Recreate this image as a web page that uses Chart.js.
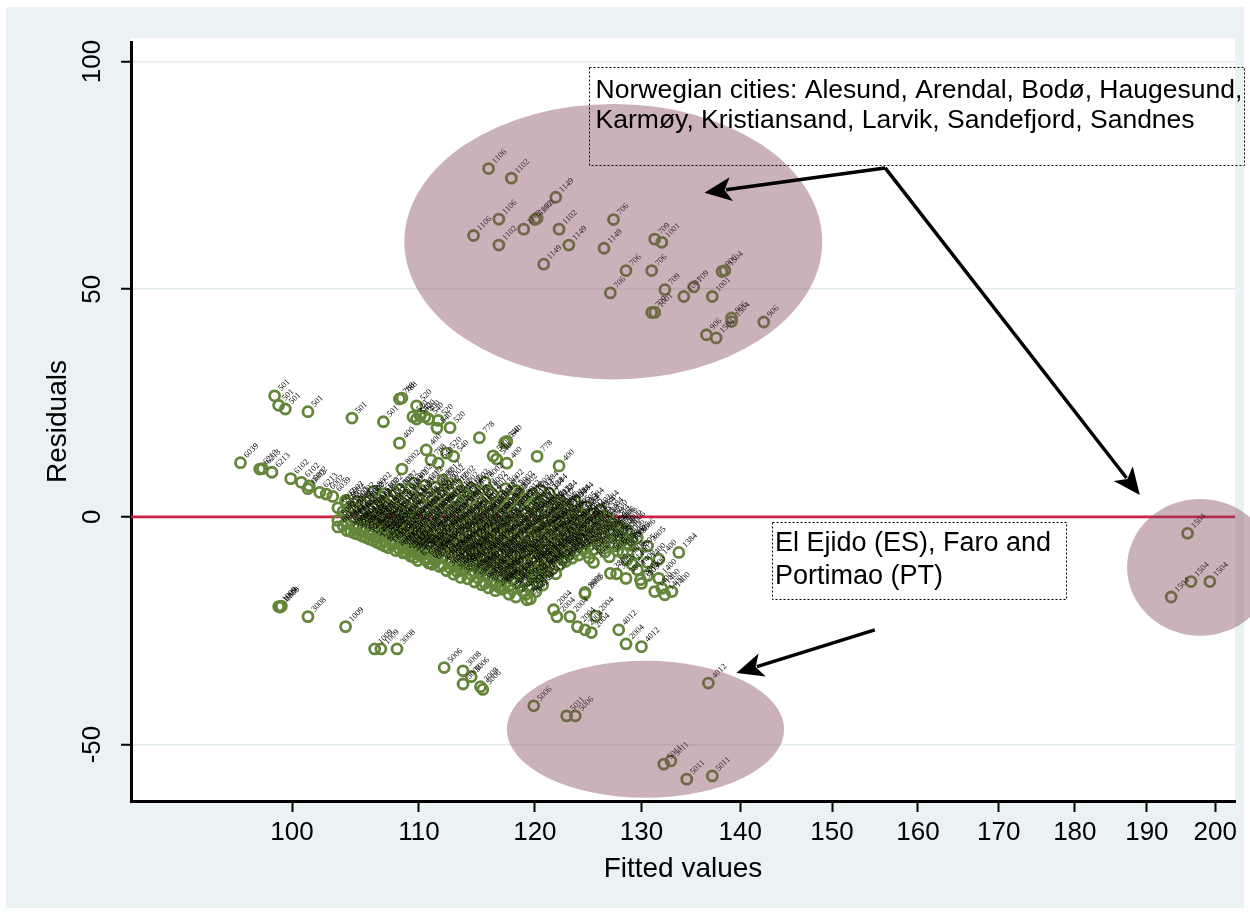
<!DOCTYPE html>
<html><head><meta charset="utf-8">
<script src="https://cdn.jsdelivr.net/npm/chart.js@4.4.1/dist/chart.umd.min.js"></script>
<style>html,body{margin:0;padding:0;background:#fff;}canvas{display:block;}</style>
</head><body>
<canvas id="c" width="1250" height="913"></canvas>
<script>
// ---------- DATA ----------
const xTicks = [100, 110, 120, 130, 140, 150, 160, 170, 180, 190, 200];
const yTicks = [-50, 0, 50, 100];
const xTitle = 'Fitted values';
const yTitle = 'Residuals';

// [fitted, residual, label]
const norway = [
 [115.9,76.5,'1106'],[117.9,74.4,'1102'],[121.9,70.2,'1149'],[116.8,65.4,'1106'],[114.6,61.8,'1106'],
 [119.0,63.2,'1102'],[120.0,65.3,'1102'],[120.2,65.6,'1001'],[116.8,59.7,'1102'],[122.2,63.2,'1102'],
 [123.1,59.7,'1149'],[120.8,55.5,'1149'],[126.4,59.0,'1149'],[127.3,65.3,'706'],[131.3,61.0,'709'],
 [132.0,60.3,'1001'],[128.5,54.1,'706'],[131.0,54.1,'706'],[127.0,49.2,'706'],[132.3,49.9,'709'],
 [131.0,44.9,'709'],[131.3,44.9,'1001'],[134.2,48.4,'1001'],[135.2,50.5,'709'],[137.1,48.4,'1001'],
 [138.1,53.9,'906'],[138.4,54.1,'1504'],[139.1,43.7,'906'],[139.1,42.9,'1504'],[136.5,40.0,'906'],
 [137.5,39.3,'1504'],[142.5,42.8,'906']
];
const rightGroup = [[195.9,-3.6,'1504'],[196.4,-14.2,'1504'],[199.2,-14.2,'1504'],[193.5,-17.6,'1504']];
const iberia = [
 [136.7,-36.5,'4012'],[119.9,-41.5,'5006'],[122.9,-43.7,'5011'],[123.7,-43.7,'5006'],
 [132.2,-54.3,'5011'],[132.9,-53.6,'5011'],[134.5,-57.6,'5011'],[137.1,-56.9,'5011']
];
const lowerLeft = [
 [99.0,-19.7,'1009'],[99.1,-19.8,'1009'],[99.2,-19.6,'1009'],[101.2,-21.9,'3008'],[104.1,-24.1,'1009'],
 [106.4,-29.0,'1009'],[106.9,-29.0,'1009'],[108.2,-29.0,'3008'],[112.1,-33.1,'5006'],[113.7,-33.8,'3008'],
 [114.4,-35.1,'5006'],[113.7,-36.7,'3008'],[115.2,-37.3,'3008'],[115.4,-37.9,'5006']
];
const upperGroup = [
 [98.7,26.6,'501'],[99.0,24.5,'501'],[99.5,23.7,'501'],[101.2,23.1,'501'],[104.6,21.7,'501'],[107.1,20.9,'501'],
 [108.4,25.9,'788'],[108.6,26.1,'788'],[109.8,24.4,'520'],[109.5,22.0,'520'],[110.1,22.2,'520'],[110.5,22.0,'400'],
 [109.8,21.5,'540'],[110.8,21.5,'540'],[111.6,21.2,'520'],[111.5,19.5,'540'],[112.6,19.6,'520'],
 [108.4,16.2,'400'],[110.6,14.7,'400'],[111.0,12.5,'788'],[111.6,11.8,'540'],[112.3,14.0,'520'],[112.9,13.3,'540'],
 [115.1,17.4,'778'],[117.3,16.3,'540'],[117.5,16.6,'540'],[116.3,13.4,'540'],[116.6,12.7,'540'],[117.5,11.8,'400'],
 [120.2,13.3,'778'],[122.2,11.2,'400'],[108.6,10.5,'8002']
];
const leadingEdge = [
 [96.2,11.9,'6039'],[97.6,10.5,'6213'],[97.8,10.6,'6213'],[98.5,9.8,'6213'],[99.9,8.4,'6102'],[100.7,7.6,'6102'],
 [101.3,6.8,'6002'],[101.2,6.2,'6002'],[102.1,5.4,'6213'],[102.6,5.0,'6002'],[103.1,4.5,'6039'],[104.1,3.6,'6002'],
 [105.0,3.4,'6002'],[106.3,5.6,'8002']
];
const rightSparse = [
 [133.7,-7.8,'1384'],[127.1,-1.5,'1384'],[127.6,-2.1,'3006'],[127.9,-4.7,'3006'],[128.5,-4.7,'3006'],[128.8,-6.2,'3006'],
 [126.5,0.1,'1384'],[124.3,0.7,'1384'],[124.9,-1.5,'2402'],[122.0,2.1,'6002'],[120.5,5.8,'1384'],[121.3,-2.9,'6213'],
 [122.0,-6.5,'6213'],[122.9,-7.8,'6213'],[124.3,-2.9,'1730'],
 [127.0,-12.4,'3805'],[127.6,-12.5,'3805'],[128.5,-13.5,'3805'],[129.9,-13.8,'3805'],[130.0,-14.6,'3805'],
 [131.3,-16.4,'1400'],[132.0,-15.7,'1400'],[133.0,-16.4,'1400'],[132.3,-17.1,'1400'],
 [124.6,-16.6,'8006'],[121.0,-11.6,'8006'],[119.9,-11.6,'8006'],[120.2,-14.6,'8006'],[119.3,-18.2,'2802'],
 [119.6,-18.0,'2802'],[117.0,-15.3,'2802'],
 [121.7,-20.4,'2004'],[122.0,-21.9,'2004'],[123.2,-21.9,'2004'],[123.9,-24.1,'2004'],[124.6,-24.8,'2004'],
 [125.2,-25.4,'2004'],[127.8,-24.8,'4012'],[128.5,-27.9,'2004'],[130.0,-28.5,'4012'],[125.6,-21.8,'2004'],
 [124.6,-16.9,'2802']
];
// dense core, first pass: [fitted, residuals, labels]
const coreColumns = [
 [103.5,[2.0,-0.8,-2.2],'6002 8002 8012'],
 [104.2,[3.1,0.4,-1.5,-3.0],'6002 8002 8012 3801'],
 [104.8,[1.6,-0.5,-2.4,-3.6],'8002 8012 3801 3605'],
 [105.4,[2.8,0.9,-1.0,-2.9,-4.2],'6002 8002 8012 3801 3605'],
 [106.0,[4.0,1.5,-0.3,-1.9,-3.5,-4.9],'8002 8012 3801 3605 2402 1730'],
 [106.6,[2.6,0.6,-1.2,-2.8,-4.4,-5.6],'8002 8012 3801 3605 2402 1730'],
 [107.2,[5.1,3.2,1.0,-0.7,-2.3,-3.9,-5.3,-6.4],'8002 6102 8012 3801 3605 2402 1730 8006'],
 [107.8,[1.9,-0.1,-1.8,-3.4,-4.9,-6.2],'8012 3801 3605 2402 1730 8006'],
 [108.4,[6.0,3.8,0.8,-1.1,-2.9,-4.4,-5.9,-7.1],'8002 6102 8012 3801 3605 2402 1730 8006'],
 [109.0,[4.7,2.2,-0.5,-2.2,-3.8,-5.4,-6.8,-8.0],'8002 8012 3801 3605 2402 1730 8006 2802'],
 [109.6,[7.4,3.5,1.2,-1.3,-3.0,-4.7,-6.3,-7.7,-8.9],'8002 6102 8012 3801 3605 2402 1730 8006 2802'],
 [110.2,[5.8,2.6,0.3,-1.8,-3.6,-5.2,-6.9,-8.4],'8012 3801 3605 2402 1730 8006 2802 6213'],
 [110.8,[4.4,1.7,-0.6,-2.5,-4.2,-5.9,-7.5,-9.2,-10.1],'8002 8012 3801 3605 2402 1730 8006 2802 6213'],
 [111.4,[6.6,3.0,0.7,-1.4,-3.3,-5.0,-6.6,-8.2,-9.7],'8002 8012 3801 3605 2402 1730 8006 2802 6213'],
 [112.0,[8.1,4.9,2.0,-0.2,-2.2,-4.0,-5.7,-7.3,-8.9,-10.6],'8012 6102 8002 3801 3605 2402 1730 8006 2802 6213'],
 [112.6,[5.5,1.3,-1.0,-3.0,-4.8,-6.5,-8.1,-9.8,-11.2],'8012 8002 3801 3605 2402 1730 8006 2802 6213'],
 [113.2,[7.0,3.6,0.4,-1.9,-3.8,-5.6,-7.3,-9.0,-10.5,-12.0],'8002 8012 3801 3605 2402 1730 8006 2802 6213 3006'],
 [113.8,[4.6,1.9,-0.7,-2.7,-4.6,-6.4,-8.2,-9.9,-11.5],'8012 3801 3605 2402 1730 8006 2802 6213 3006'],
 [114.4,[6.3,2.8,0.1,-1.8,-3.6,-5.4,-7.1,-8.9,-10.7,-12.6],'8002 8012 3801 3605 2402 1730 8006 2802 6213 3006'],
 [115.0,[4.2,1.0,-1.0,-2.9,-4.7,-6.3,-8.0,-9.8,-11.6,-13.4],'8012 3801 3605 2402 1730 8006 2802 6213 3006 3805'],
 [115.6,[7.6,2.4,-0.2,-2.0,-3.9,-5.7,-7.4,-9.1,-10.9,-12.8,-14.6],'8002 8012 3801 3605 2402 1730 8006 2802 6213 3006 3805'],
 [116.2,[5.1,1.4,-1.2,-3.1,-4.9,-6.8,-8.6,-10.4,-12.2,-14.0],'8012 3801 3605 2402 1730 8006 2802 6213 3006 3805'],
 [116.8,[3.4,0.3,-2.2,-4.1,-6.0,-7.8,-9.6,-11.4,-13.3,-15.4],'8012 3801 3605 2402 1730 8006 2802 6213 3006 3805'],
 [117.4,[6.2,2.0,-0.8,-3.0,-5.1,-7.0,-8.9,-10.7,-12.6,-14.5],'8002 3801 3605 2402 1730 8006 2802 6213 3006 3805'],
 [118.0,[4.1,0.9,-1.8,-3.9,-5.9,-7.9,-9.8,-11.8,-13.8,-16.0],'8012 3801 3605 2402 1730 8006 2802 6213 3006 3805'],
 [118.6,[5.3,2.4,-0.4,-2.7,-4.8,-6.8,-8.8,-10.8,-12.9,-15.1],'8002 8012 3801 3605 2402 1730 8006 2802 6213 3006'],
 [119.2,[3.5,1.0,-1.6,-3.7,-5.8,-7.8,-9.9,-12.0,-14.1,-17.0],'8012 3801 3605 2402 1730 8006 2802 6213 3006 2004'],
 [119.8,[5.0,2.1,-0.5,-2.8,-4.9,-6.9,-9.0,-11.2,-13.4],'8002 8012 3801 3605 2402 1730 8006 2802 6213'],
 [120.4,[3.0,0.4,-1.9,-4.0,-6.1,-8.2,-10.4,-12.7],'8012 3801 3605 2402 1730 8006 2802 6213'],
 [121.0,[4.3,1.5,-0.9,-3.1,-5.2,-7.4,-9.7,-12.1],'1384 8012 3801 3605 2402 1730 8006 2802'],
 [121.6,[2.6,0.0,-2.3,-4.5,-6.7,-9.0,-11.4],'8012 3801 3605 2402 1730 8006 2802'],
 [122.2,[3.8,1.1,-1.4,-3.6,-5.9,-8.3,-10.6],'1384 3801 3605 2402 1730 8006 2802'],
 [122.8,[2.0,-0.6,-2.9,-5.1,-7.4,-9.8],'3801 3605 2402 1730 8006 2802'],
 [123.4,[2.9,0.5,-1.9,-4.3,-6.6,-9.1],'1384 3605 2402 1730 8006 2802'],
 [124.0,[1.3,-1.1,-3.6,-5.9,-8.4],'3605 2402 1730 8006 2802'],
 [124.7,[2.2,-0.3,-2.8,-5.2,-7.8],'1384 2402 1730 8006 2802'],
 [125.4,[0.7,-2.0,-4.5,-7.2,-10.0],'2402 1730 8006 2802 3006'],
 [126.1,[1.6,-1.4,-3.9,-6.6],'1384 1730 8006 3006'],
 [126.9,[-0.5,-3.2,-5.9,-8.8],'1730 3006 8006 3805'],
 [127.7,[-1.9,-4.1,-7.5],'3006 3006 3805'],
 [128.6,[-3.0,-5.8,-9.4],'3006 3805 3805'],
 [129.6,[-4.6,-8.1,-11.6],'3006 3805 1400'],
 [130.6,[-6.4,-10.0,-12.9],'3805 1400 1400'],
 [131.7,[-9.3,-13.5],'1400 1400']
];
// dense core, second pass (between the columns above)
const coreColumns2 = [
 [103.9,[1.2,-1.9],'8002 8012'],
 [104.5,[2.3,-0.9,-3.2],'6002 8012 3801'],
 [105.1,[0.2,-1.7,-3.8],'8002 3801 3605'],
 [105.7,[3.4,-0.6,-2.3,-4.5],'8002 8012 3801 3605'],
 [106.3,[1.9,-1.0,-3.1,-5.2],'8012 3801 3605 2402'],
 [106.9,[4.4,0.1,-2.0,-4.0,-6.0],'6102 8012 3801 3605 2402'],
 [107.5,[2.5,-1.3,-3.0,-4.4,-6.8],'8002 3801 3605 2402 1730'],
 [108.1,[5.2,1.3,-2.4,-5.5,-7.4],'8002 8012 3605 1730 8006'],
 [108.7,[2.9,-0.4,-3.6,-6.4,-7.9],'8012 3801 2402 8006 2802'],
 [109.3,[6.2,1.8,-1.6,-4.3,-7.4,-8.6],'8002 8012 3801 2402 8006 2802'],
 [109.9,[4.1,0.0,-2.3,-5.6,-8.1,-9.6],'8002 3801 3605 1730 2802 6213'],
 [110.5,[6.9,1.1,-2.8,-4.6,-7.6,-9.4],'6102 8012 3605 1730 2802 6213'],
 [111.1,[3.7,-0.1,-3.9,-6.3,-8.7,-10.4],'8002 3801 2402 8006 2802 6213'],
 [111.7,[5.2,1.8,-2.0,-4.5,-7.7,-10.9],'8012 3801 3605 1730 2802 3006'],
 [112.3,[7.1,2.7,-1.5,-3.6,-6.0,-9.3,-11.8],'8002 8012 3801 2402 8006 6213 3006'],
 [112.9,[4.2,0.2,-2.4,-5.3,-7.9,-10.8,-12.6],'8012 3801 3605 1730 2802 6213 3006'],
 [113.5,[5.7,2.4,-1.3,-4.4,-6.9,-9.5,-11.8,-13.3],'8002 8012 3801 2402 8006 2802 3006 3805'],
 [114.1,[3.5,-0.9,-3.2,-6.0,-8.6,-10.9,-13.6],'8012 3801 3605 1730 2802 6213 3805'],
 [114.7,[6.0,1.6,-2.4,-5.0,-7.9,-10.0,-12.4,-14.3],'8002 8012 3605 2402 8006 6213 3006 3805'],
 [115.3,[3.2,-0.5,-3.5,-6.6,-9.2,-11.9,-14.9],'8012 3801 2402 1730 2802 3006 3805'],
 [115.9,[5.8,1.0,-2.6,-4.8,-8.0,-10.4,-13.4,-15.6],'8002 8012 3801 2402 8006 6213 3006 3805'],
 [116.5,[2.8,-0.6,-3.9,-6.1,-9.3,-11.6,-14.7,-16.2],'8012 3801 3605 1730 2802 6213 3805 2802'],
 [117.1,[4.6,0.9,-2.0,-5.2,-8.1,-10.0,-13.0,-15.9],'8002 8012 3801 2402 8006 2802 3006 3805'],
 [117.7,[3.0,-1.4,-4.0,-6.6,-9.6,-12.0,-15.3,-17.0],'8012 3801 3605 1730 2802 6213 3805 2802'],
 [118.3,[5.8,1.7,-2.8,-5.0,-8.6,-10.4,-14.4,-17.6],'8002 8012 3801 2402 8006 6213 3006 2802'],
 [118.9,[3.9,-0.9,-3.6,-6.2,-9.6,-11.9,-16.3],'8012 3801 3605 1730 2802 6213 2004'],
 [119.5,[2.5,-0.1,-2.6,-5.4,-8.2,-10.9,-15.6],'8002 3801 3605 2402 8006 2802 2004'],
 [120.1,[4.0,1.0,-3.3,-6.9,-9.7,-13.0,-16.4],'1384 8012 3605 1730 8006 6213 2004'],
 [120.7,[2.1,-0.8,-3.4,-7.0,-9.2,-11.4,-15.0],'8012 3801 2402 1730 2802 6213 2004'],
 [121.3,[5.2,0.7,-2.0,-4.3,-8.3,-10.8],'1384 3801 3605 2402 8006 2802'],
 [121.9,[3.1,-1.1,-3.9,-5.6,-7.8,-12.5],'8012 3605 2402 1730 8006 2802'],
 [122.5,[0.9,-2.3,-4.8,-7.0,-9.4],'3801 2402 1730 8006 2802'],
 [123.1,[1.9,-0.5,-3.2,-5.7,-8.3],'1384 3605 1730 8006 2802'],
 [123.7,[3.4,-1.7,-4.1,-7.5],'1384 2402 8006 2802'],
 [124.3,[0.4,-2.2,-4.8,-6.9],'2402 1730 8006 2802'],
 [125.0,[-1.0,-3.4,-6.3,-9.0],'1730 8006 2802 3006'],
 [125.8,[0.3,-2.6,-5.4],'1384 8006 3006'],
 [126.5,[-1.9,-4.6,-7.7],'1730 3006 3805'],
 [127.3,[-3.6,-6.4],'3006 3805'],
 [128.2,[-2.5,-8.0],'3006 3805'],
 [129.1,[-5.3,-10.4],'3805 1400']
];

// annotation geometry, in data units (fitted, residual)
const ellipses = [ // [xLeft, xRight, yTop, yBottom]
 [108.8, 148.9, 90.7, 30.2],
 [117.5, 144.7, -31.6, -61.7],
 [187.2, 208.9, 3.95, -26.1]
];
const arrows = [ // [xFrom, yFrom, xTo, yTo]
 [156.1, 76.65, 136.3, 71.2],
 [156.1, 76.65, 189.0, 4.8],
 [154.9, -24.8, 139.6, -34.3]
];
const boxes = [ // [xLeft, yTop, xRight, yBottom]
 [125.0, 98.8, 204.4, 77.3],
 [143.4, -1.1, 178.8, -18.0]
];
const boxTexts = [ // [x, baseline y, text, font size]
 [125.6, 92.0, 'Norwegian cities: Alesund, Arendal, Bodø, Haugesund,', 26.5],
 [125.6, 85.5, 'Karmøy, Kristiansand, Larvik, Sandefjord, Sandnes', 26.5],
 [143.7, -7.6, 'El Ejido (ES), Faro and', 27],
 [143.7, -14.8, 'Portimao (PT)', 27]
];

// ---------- STYLE ----------
const FONT = '"Liberation Sans", Arial, Helvetica, sans-serif';
const GREEN = '#64863a';
const toPts = g => g.map(p => ({x: p[0], y: p[1], l: p[2]}));
const fromColumns = cols => {
 const out = [];
 cols.forEach(c => { const labs = c[2].split(' '); c[1].forEach((r, i) => out.push({x: c[0], y: r, l: labs[i] || ''})); });
 return out;
};
const groups = [toPts(leadingEdge), fromColumns(coreColumns), fromColumns(coreColumns2), toPts(upperGroup),
 toPts(rightSparse), toPts(lowerLeft), toPts(iberia), toPts(norway), toPts(rightGroup)];

const bgPlugin = {
 id: 'bg',
 beforeDraw(chart) {
  const ctx = chart.ctx, a = chart.chartArea;
  ctx.save();
  ctx.fillStyle = '#ffffff'; ctx.fillRect(0, 0, chart.width, chart.height);
  ctx.fillStyle = '#eaf2f3'; ctx.fillRect(6, 7, chart.width - 12, chart.height - 12);
  ctx.fillStyle = '#ffffff'; ctx.fillRect(a.left - 1, a.top - 4, a.right - a.left + 1, a.bottom - a.top + 4);
  ctx.restore();
 }
};
const zeroPlugin = {
 id: 'zero',
 beforeDatasetsDraw(chart) {
  const ctx = chart.ctx, a = chart.chartArea, y0 = chart.scales.y.getPixelForValue(0);
  ctx.save(); ctx.strokeStyle = '#cf1f45'; ctx.lineWidth = 2.6;
  ctx.beginPath(); ctx.moveTo(a.left, y0); ctx.lineTo(a.right, y0); ctx.stroke(); ctx.restore();
 }
};
const annoPlugin = {
 id: 'anno',
 afterDatasetsDraw(chart) {
  const ctx = chart.ctx, xs = chart.scales.x, ys = chart.scales.y;
  const X = v => xs.getPixelForValue(v), Y = v => ys.getPixelForValue(v);
  // point labels
  ctx.save();
  ctx.font = '8.5px "Liberation Serif", "Times New Roman", serif';
  ctx.fillStyle = '#000'; ctx.textAlign = 'left'; ctx.textBaseline = 'middle';
  chart.data.datasets.forEach((ds, i) => {
   chart.getDatasetMeta(i).data.forEach((el, j) => {
    const l = ds.data[j].l; if (!l) return;
    ctx.save(); ctx.translate(el.x + 5, el.y - 6); ctx.rotate(-Math.PI / 4); ctx.fillText(l, 0, 0); ctx.restore();
   });
  });
  ctx.restore();
  // ellipses
  ctx.save(); ctx.fillStyle = 'rgba(130,70,90,0.42)';
  ellipses.forEach(e => {
   const x1 = X(e[0]), x2 = X(e[1]), y1 = Y(e[2]), y2 = Y(e[3]);
   ctx.beginPath(); ctx.ellipse((x1 + x2) / 2, (y1 + y2) / 2, (x2 - x1) / 2, (y2 - y1) / 2, 0, 0, Math.PI * 2); ctx.fill();
  });
  ctx.restore();
  // arrows
  ctx.save(); ctx.strokeStyle = '#000'; ctx.fillStyle = '#000'; ctx.lineWidth = 3.5; ctx.lineCap = 'butt';
  arrows.forEach(ar => {
   const sx = X(ar[0]), sy = Y(ar[1]), tx = X(ar[2]), ty = Y(ar[3]);
   const ang = Math.atan2(ty - sy, tx - sx), hl = 27, hw = 12;
   const bx = tx - Math.cos(ang) * hl * 0.8, by = ty - Math.sin(ang) * hl * 0.8;
   ctx.beginPath(); ctx.moveTo(sx, sy); ctx.lineTo(bx, by); ctx.stroke();
   const cx = tx - Math.cos(ang) * hl, cy = ty - Math.sin(ang) * hl;
   ctx.beginPath(); ctx.moveTo(tx, ty);
   ctx.lineTo(cx + Math.sin(ang) * hw, cy - Math.cos(ang) * hw);
   ctx.lineTo(tx - Math.cos(ang) * hl * 0.75, ty - Math.sin(ang) * hl * 0.75);
   ctx.lineTo(cx - Math.sin(ang) * hw, cy + Math.cos(ang) * hw);
   ctx.closePath(); ctx.fill();
  });
  ctx.restore();
  // boxes
  ctx.save(); ctx.strokeStyle = '#000'; ctx.lineWidth = 1; ctx.setLineDash([2, 2]);
  boxes.forEach(b => {
   const x1 = Math.round(X(b[0])) + 0.5, y1 = Math.round(Y(b[1])) + 0.5, x2 = Math.round(X(b[2])) + 0.5, y2 = Math.round(Y(b[3])) + 0.5;
   ctx.strokeRect(x1, y1, x2 - x1, y2 - y1);
  });
  ctx.restore();
  ctx.save(); ctx.fillStyle = '#000'; ctx.textAlign = 'left'; ctx.textBaseline = 'alphabetic';
  boxTexts.forEach(t => { ctx.font = t[3] + 'px ' + FONT; ctx.fillText(t[2], X(t[0]), Y(t[1])); });
  ctx.restore();
 }
};

const chart = new Chart(document.getElementById('c'), {
 type: 'scatter',
 data: {
  datasets: groups.map(g => ({
   data: g, pointRadius: 5, pointHoverRadius: 5, pointBorderWidth: 2.8,
   borderColor: GREEN, pointBorderColor: GREEN, backgroundColor: 'rgba(0,0,0,0)', pointBackgroundColor: 'rgba(0,0,0,0)'
  }))
 },
 options: {
  responsive: false, animation: false, events: [],
  layout: {padding: {left: 0, top: 42, right: 15, bottom: 0}},
  plugins: {legend: {display: false}, tooltip: {enabled: false}},
  scales: {
   x: {
    type: 'logarithmic', position: 'bottom', min: 88.61, max: 203.0,
    afterBuildTicks: s => { s.ticks = xTicks.map(v => ({value: v})); },
    afterFit: s => { s.height = 112; },
    ticks: {autoSkip: false, minRotation: 0, maxRotation: 0, padding: 5, color: '#000', font: {family: FONT, size: 26}, callback: v => String(v)},
    grid: {drawOnChartArea: false, drawTicks: true, tickLength: 11, tickColor: '#000', tickWidth: 2},
    border: {display: true, color: '#000', width: 3},
    title: {display: true, text: xTitle, color: '#000', font: {family: FONT, size: 28}, padding: {top: 0, bottom: 27}}
   },
   y: {
    type: 'linear', position: 'left', min: -62.4, max: 104.3,
    afterBuildTicks: s => { s.ticks = yTicks.map(v => ({value: v})); },
    afterFit: s => { s.width = 131; },
    ticks: {autoSkip: false, minRotation: 90, maxRotation: 90, crossAlign: 'center', padding: 6, color: '#000', font: {family: FONT, size: 26}, callback: v => String(v)},
    grid: {color: '#e2ecee', lineWidth: 1.5, drawTicks: true, tickLength: 10, tickColor: '#000', tickWidth: 2},
    border: {display: true, color: '#000', width: 3},
    title: {display: true, text: yTitle, color: '#000', font: {family: FONT, size: 28}, padding: {top: 41, bottom: 0}}
   }
  }
 },
 plugins: [bgPlugin, zeroPlugin, annoPlugin]
});
</script>
</body></html>
